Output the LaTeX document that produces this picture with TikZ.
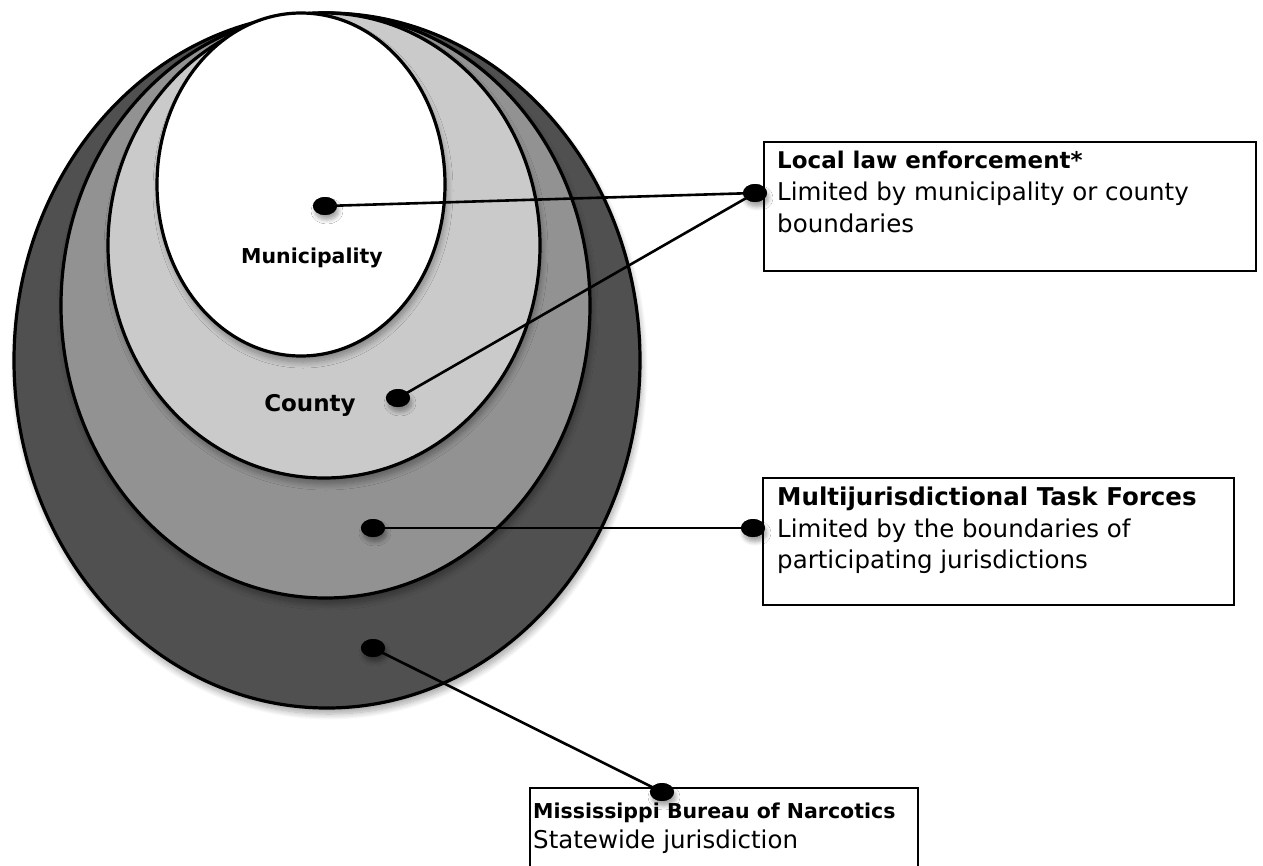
\documentclass[tikz,border=0pt]{standalone}
\usepackage{fontspec}
\setmainfont{DejaVu Sans}
\usetikzlibrary{shapes.geometric,shadows.blur}
\definecolor{cstate}{HTML}{505050}
\definecolor{cmulti}{HTML}{929292}
\definecolor{ccounty}{HTML}{CACACA}
\begin{document}
\begin{tikzpicture}[x=1pt,y=-1pt,
  ring/.style={ellipse,draw=black,line width=3.2pt,inner sep=0pt,
    blur shadow={shadow xshift=2pt,shadow yshift=-6pt,shadow blur steps=10,shadow blur radius=6pt,shadow opacity=35}},
  dotnode/.style={ellipse,fill=black,inner sep=0pt,minimum width=24pt,minimum height=18pt,
    blur shadow={shadow xshift=2pt,shadow yshift=-5pt,shadow blur steps=6,shadow blur radius=4pt,shadow opacity=35}},
  conn/.style={line width=2.6pt},
  boxnode/.style={rectangle,draw=black,line width=2.2pt,fill=white,inner sep=0pt,anchor=north west},
  hd/.style={anchor=base west,inner sep=0pt,font=\bfseries\fontsize{23.5}{28}\selectfont},
  tx/.style={anchor=base west,inner sep=0pt,font=\fontsize{24.5}{28}\selectfont},
  lbl/.style={anchor=base,inner sep=0pt,font=\bfseries\fontsize{20.5}{24}\selectfont}
]
\useasboundingbox (0,0) rectangle (1263,865);
% nested jurisdictions
\node[ring,fill=cstate,minimum width=626pt,minimum height=695pt] (state) at (327,360.5) {};
\node[ring,fill=cmulti,minimum width=529pt,minimum height=585pt] (multi) at (325.5,305.5) {};
\node[ring,fill=ccounty,minimum width=432pt,minimum height=465pt] (county) at (324,245.5) {};
\node[ring,fill=white,minimum width=288pt,minimum height=343pt] (mun) at (301,184.5) {};
\node[lbl] (munlbl) at (312,263) {Municipality};
\node[lbl,font=\bfseries\fontsize{23}{26}\selectfont] (coulbl) at (310,411) {County};
% boxes
\node[boxnode,minimum width=492pt,minimum height=129pt] (lbox) at (763,141) {};
\node[boxnode,minimum width=471pt,minimum height=127pt] (mbox) at (762,477) {};
\draw[line width=2.2pt,fill=white] (530,895) -- (530,788) -- (918,788) -- (918,895);
\coordinate (nbox) at (530,788);
% dots
\node[dotnode] (d1) at (325,206) {};
\node[dotnode] (d2) at (755,193) {};
\node[dotnode] (d3) at (398,398) {};
\node[dotnode] (d4) at (373,528) {};
\node[dotnode] (d5) at (753,528) {};
\node[dotnode] (d6) at (373,648) {};
\node[dotnode] (d7) at (662,792) {};
% connectors
\draw[conn] (d1.center) -- (d2.center);
\draw[conn] (d3.center) -- (d2.center);
\draw[conn] (d4.center) -- (d5.center);
\draw[conn] (d6.center) -- (d7.center);
\foreach \d in {d1,d2,d3,d4,d5,d6,d7} \fill (\d.center) ellipse (12pt and 9pt);
% texts
\node[hd,font=\bfseries\fontsize{23}{28}\selectfont] (lh) at (777,168) {Local law enforcement*};
\node[tx] (l1) at (777,200) {Limited by municipality or county};
\node[tx] (l2) at (777,232) {boundaries};
\node[hd,font=\bfseries\fontsize{24.5}{28}\selectfont] (mh) at (777,505) {Multijurisdictional Task Forces};
\node[tx] (m1) at (777,537) {Limited by the boundaries of};
\node[tx] (m2) at (777,568) {participating jurisdictions};
\node[hd,font=\bfseries\fontsize{20.5}{24}\selectfont] (nh) at (533,818) {Mississippi Bureau of Narcotics};
\node[tx] (n1) at (533,848) {Statewide jurisdiction};
\end{tikzpicture}
\end{document}
